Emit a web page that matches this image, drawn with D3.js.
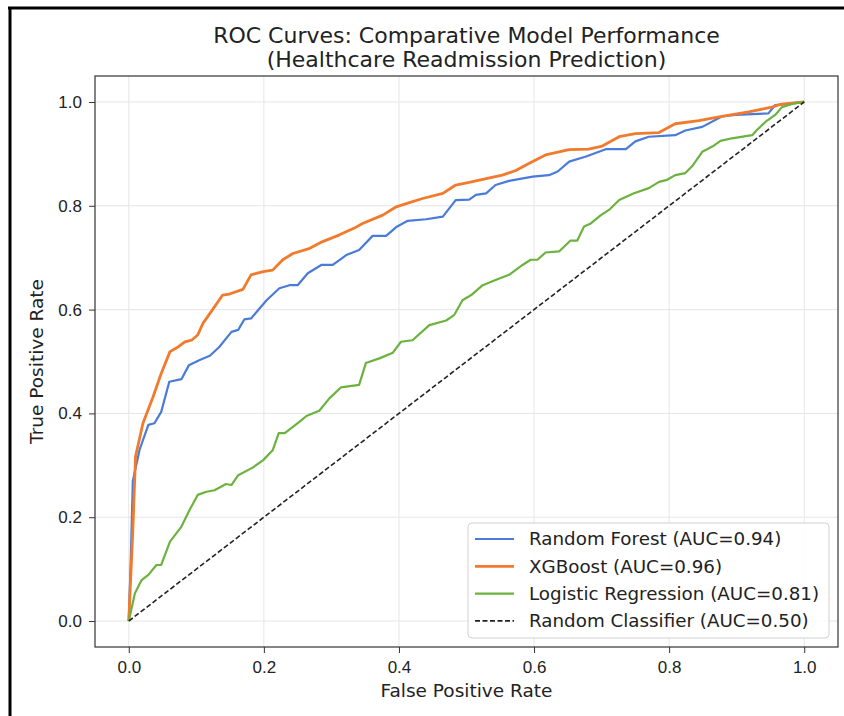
<!DOCTYPE html>
<html>
<head>
<meta charset="utf-8">
<script src="https://cdn.jsdelivr.net/npm/d3@7"></script>
<style>
  body { margin: 0; background: #fff; }
  svg { display: block; font-family: "DejaVu Sans", sans-serif; }
  .grid line { stroke: #e6e6e6; stroke-width: 1; }
  .axis path, .axis line { stroke: #333; }
  .axis text { fill: #222; font-size: 17px; }
</style>
</head>
<body>
<svg width="844" height="716"></svg>
<script>
// model curves (fpr / tpr pairs)
const rfFpr = [0, 0.003, 0.006, 0.016, 0.029, 0.038, 0.048, 0.060, 0.078, 0.089,
  0.105, 0.12, 0.134, 0.152, 0.162, 0.171, 0.181, 0.204, 0.223, 0.238,
  0.250, 0.265, 0.285, 0.302, 0.322, 0.341, 0.361, 0.381, 0.396, 0.413,
  0.440, 0.465, 0.484, 0.504, 0.514, 0.529, 0.543, 0.563, 0.598, 0.622,
  0.635, 0.652, 0.677, 0.706, 0.736, 0.750, 0.770, 0.809, 0.824, 0.849,
  0.878, 0.898, 0.947, 0.957, 0.972, 1.0];
const rfTpr = [0, 0.12, 0.27, 0.33, 0.378, 0.381, 0.403, 0.461, 0.466, 0.493,
  0.503, 0.511, 0.528, 0.557, 0.561, 0.581, 0.583, 0.618, 0.641, 0.647,
  0.647, 0.670, 0.686, 0.686, 0.705, 0.715, 0.742, 0.742, 0.759, 0.771,
  0.774, 0.779, 0.811, 0.812, 0.821, 0.824, 0.840, 0.848, 0.856, 0.859,
  0.866, 0.885, 0.895, 0.909, 0.909, 0.924, 0.933, 0.936, 0.945, 0.952,
  0.972, 0.975, 0.978, 0.994, 0.996, 1.0];

const xgbFpr = [0, 0.006, 0.010, 0.021, 0.036, 0.048, 0.061, 0.073, 0.083, 0.093,
  0.102, 0.110, 0.122, 0.139, 0.149, 0.169, 0.181, 0.199, 0.213, 0.228,
  0.243, 0.268, 0.287, 0.312, 0.334, 0.346, 0.376, 0.396, 0.413, 0.435,
  0.465, 0.484, 0.504, 0.524, 0.553, 0.573, 0.593, 0.617, 0.652, 0.681,
  0.701, 0.726, 0.750, 0.785, 0.809, 0.844, 0.878, 0.918, 0.952, 0.967, 1.0];
const xgbTpr = [0, 0.175, 0.317, 0.381, 0.432, 0.477, 0.519, 0.528, 0.538, 0.541,
  0.551, 0.574, 0.596, 0.628, 0.630, 0.639, 0.667, 0.673, 0.676, 0.696,
  0.708, 0.718, 0.731, 0.744, 0.757, 0.766, 0.782, 0.798, 0.805, 0.814,
  0.824, 0.840, 0.845, 0.851, 0.859, 0.868, 0.882, 0.898, 0.908, 0.909,
  0.915, 0.933, 0.939, 0.941, 0.958, 0.964, 0.972, 0.981, 0.990, 0.996, 1.0];

const lrFpr = [0, 0.009, 0.019, 0.029, 0.041, 0.048, 0.061, 0.078, 0.090, 0.102,
  0.115, 0.127, 0.144, 0.152, 0.162, 0.184, 0.199, 0.213, 0.222, 0.231,
  0.253, 0.263, 0.282, 0.297, 0.314, 0.341, 0.351, 0.371, 0.391, 0.403,
  0.420, 0.445, 0.470, 0.482, 0.494, 0.507, 0.524, 0.543, 0.563, 0.583,
  0.595, 0.605, 0.617, 0.637, 0.654, 0.664, 0.674, 0.684, 0.699, 0.711,
  0.726, 0.748, 0.770, 0.785, 0.797, 0.809, 0.824, 0.834, 0.849, 0.864,
  0.876, 0.893, 0.923, 0.930, 0.943, 0.957, 0.967, 0.982, 1.0];
const lrTpr = [0, 0.053, 0.079, 0.089, 0.108, 0.108, 0.153, 0.182, 0.214, 0.243,
  0.249, 0.252, 0.264, 0.262, 0.281, 0.296, 0.310, 0.329, 0.362, 0.362,
  0.384, 0.395, 0.405, 0.429, 0.450, 0.455, 0.497, 0.506, 0.517, 0.538,
  0.541, 0.570, 0.579, 0.590, 0.618, 0.628, 0.647, 0.657, 0.667, 0.686,
  0.696, 0.696, 0.710, 0.712, 0.733, 0.733, 0.760, 0.766, 0.782, 0.792,
  0.811, 0.824, 0.834, 0.846, 0.850, 0.859, 0.863, 0.876, 0.904, 0.914,
  0.925, 0.930, 0.936, 0.946, 0.962, 0.975, 0.990, 0.996, 1.0];

const chanceFpr = [0, 1];
const chanceTpr = [0, 1];

const labels = ["Random Forest (AUC=0.94)", "XGBoost (AUC=0.96)",
  "Logistic Regression (AUC=0.81)", "Random Classifier (AUC=0.50)"];
const ticks = [0, 0.2, 0.4, 0.6, 0.8, 1.0];

const series = [
  { fpr: rfFpr, tpr: rfTpr, color: "#4a7bd8", width: 2.2, dash: null },
  { fpr: xgbFpr, tpr: xgbTpr, color: "#f27a2c", width: 2.8, dash: null },
  { fpr: lrFpr, tpr: lrTpr, color: "#6cb23e", width: 2.2, dash: null },
  { fpr: chanceFpr, tpr: chanceTpr, color: "#222", width: 1.6, dash: "5,2.5" },
];

const svg = d3.select("svg");

// screenshot frame (left + top edge)
svg.append("line").attr("x1", 10).attr("y1", 8).attr("x2", 10).attr("y2", 716)
  .attr("stroke", "#000").attr("stroke-width", 3);
svg.append("line").attr("x1", 8).attr("y1", 8).attr("x2", 844).attr("y2", 8)
  .attr("stroke", "#000").attr("stroke-width", 3);

const plotL = 95, plotR = 838, plotT = 76, plotB = 647;

const x = d3.scaleLinear().domain([-0.05, 1.05]).range([plotL, plotR]);
const y = d3.scaleLinear().domain([-0.05, 1.05]).range([plotB, plotT]);

// grid
const grid = svg.append("g").attr("class", "grid");
grid.selectAll(".gx").data(ticks).join("line").attr("class", "gx")
  .attr("x1", (d) => x(d)).attr("x2", (d) => x(d))
  .attr("y1", plotT).attr("y2", plotB);
grid.selectAll(".gy").data(ticks).join("line").attr("class", "gy")
  .attr("y1", (d) => y(d)).attr("y2", (d) => y(d))
  .attr("x1", plotL).attr("x2", plotR);

// curves
const line = d3.line().x((d) => x(d[0])).y((d) => y(d[1]));
svg.append("g").selectAll("path")
  .data(series)
  .join("path")
  .attr("d", (s) => line(d3.zip(s.fpr, s.tpr)))
  .attr("fill", "none")
  .attr("stroke", (s) => s.color)
  .attr("stroke-width", (s) => s.width)
  .attr("stroke-dasharray", (s) => s.dash)
  .attr("stroke-linejoin", "round");

// axes
const fmt = d3.format(".1f");
svg.append("g").attr("class", "axis")
  .attr("transform", `translate(0,${plotB})`)
  .call(d3.axisBottom(x).tickValues(ticks).tickFormat(fmt).tickSizeOuter(0).tickSize(6).tickPadding(8))
  .call((g) => g.select(".domain").remove());
svg.append("g").attr("class", "axis")
  .attr("transform", `translate(${plotL},0)`)
  .call(d3.axisLeft(y).tickValues(ticks).tickFormat(fmt).tickSizeOuter(0).tickSize(6).tickPadding(7))
  .call((g) => g.select(".domain").remove());

svg.append("rect")
  .attr("x", plotL).attr("y", plotT)
  .attr("width", plotR - plotL).attr("height", plotB - plotT)
  .attr("fill", "none").attr("stroke", "#333").attr("stroke-width", 1.2);

// titles
const mid = (plotL + plotR) / 2;
svg.append("text").attr("x", mid).attr("y", 43).attr("text-anchor", "middle")
  .attr("font-size", 22).attr("fill", "#222").text("ROC Curves: Comparative Model Performance");
svg.append("text").attr("x", mid).attr("y", 67).attr("text-anchor", "middle")
  .attr("font-size", 22).attr("fill", "#222").text("(Healthcare Readmission Prediction)");
svg.append("text").attr("x", mid).attr("y", 697).attr("text-anchor", "middle")
  .attr("font-size", 18.5).attr("fill", "#222").text("False Positive Rate");
svg.append("text").attr("transform", `translate(43,${(plotT + plotB) / 2}) rotate(-90)`)
  .attr("text-anchor", "middle").attr("font-size", 18.5).attr("fill", "#222")
  .text("True Positive Rate");

// legend
const legend = svg.append("g").attr("transform", "translate(468,523)");
legend.append("rect").attr("width", 361).attr("height", 115).attr("rx", 4)
  .attr("fill", "#fff").attr("fill-opacity", 0.85)
  .attr("stroke", "#d0d0d0");
const item = legend.selectAll(".item").data(series).join("g")
  .attr("transform", (d, i) => `translate(0,${16 + i * 27.3})`);
item.append("line").attr("x1", 7).attr("x2", 46)
  .attr("stroke", (s) => s.color)
  .attr("stroke-width", (s) => s.width)
  .attr("stroke-dasharray", (s) => s.dash);
item.append("text").attr("x", 61).attr("dy", "0.35em")
  .attr("font-size", 18.3).attr("fill", "#222")
  .text((d, i) => labels[i]);
</script>
</body>
</html>
